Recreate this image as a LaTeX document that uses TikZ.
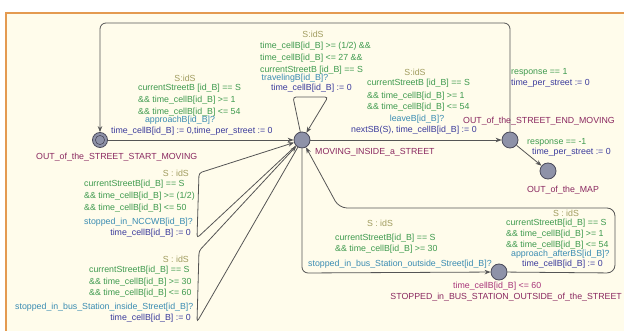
\documentclass[tikz,border=0pt]{standalone}
\usepackage{fontspec}
\setmainfont{Liberation Sans}
\usetikzlibrary{arrows.meta}
\definecolor{bgc}{HTML}{FFFCEB}
\definecolor{frame}{HTML}{E49A50}
\definecolor{selc}{HTML}{A09C5E}
\definecolor{grdc}{HTML}{3E9A4E}
\definecolor{sync}{HTML}{3A8CB2}
\definecolor{updc}{HTML}{3A3A9C}
\definecolor{locc}{HTML}{8A2860}
\definecolor{invc}{HTML}{A8347A}
\definecolor{statef}{HTML}{8E92A8}
\definecolor{statel}{HTML}{4A4A5A}
\definecolor{edgec}{HTML}{555555}
\begin{document}
\begin{tikzpicture}[x=1pt,y=-1pt,
  every node/.style={font=\fontsize{8.8}{10}\selectfont, inner sep=0pt},
  stat/.style={circle, draw=statel, fill=statef, line width=0.8pt, minimum size=16pt},
  edge/.style={draw=edgec, line width=0.8pt, -{Stealth[length=6pt,width=4.5pt]}, rounded corners=6pt},
  sel/.style={text=selc}, grd/.style={text=grdc}, syn/.style={text=sync},
  upd/.style={text=updc}, locl/.style={text=locc}, inv/.style={text=invc}]
\useasboundingbox (0,0) rectangle (624,331);
\fill[white] (0,0) rectangle (624,331);
\fill[bgc] (6,13) rectangle (624,331);
\draw[frame, line width=1.5pt] (6,331) -- (6,13) -- (624,13);

% locations
\node[stat, minimum size=15pt] (start) at (100,140) {};
\draw[statel, line width=0.6pt] (start.center) circle (4.6pt);
\node[stat] (mov) at (302,140) {};
\node[stat] (endm) at (510,140) {};
\node[stat] (map) at (548,171) {};
\node[stat] (stop) at (499,272) {};

% connectors
\draw[edge] (endm) -- (510,23) -- (100,23) -- (start);
\draw[edge] (start) -- (mov);
\draw[edge, rounded corners=3pt] (mov) -- (293,97) -- (328,97) -- (mov);
\draw[edge] (mov) -- (endm);
\draw[edge] (endm) -- (map);
\draw[edge, rounded corners=3pt] (mov) -- (197,238) -- (199,173) -- (mov);
\draw[edge, rounded corners=3pt] (mov) -- (197,322) -- (199,251) -- (mov);
\draw[edge] (mov) -- (302,273) -- (stop);
\draw[edge, rounded corners=8pt] (stop) -- (615,273) -- (615,208) -- (339,208) -- (mov);

% start -> moving
\node[sel] (l1) at (185,78) {S:idS};
\node[grd, anchor=west] (l2) at (138,88) {currentStreetB [id\_B] == S};
\node[grd, anchor=west] (l3) at (138,100) {\&\& time\_cellB[id\_B] >= 1};
\node[grd, anchor=west] (l4) at (138,112) {\&\& time\_cellB[id\_B] <= 54};
\node[syn] (l5) at (180,120) {approachB[id\_B]?};
\node[upd, anchor=west] (l6) at (111,131) {time\_cellB[id\_B] := 0,time\_per\_street := 0};
\node[locl, anchor=west] (n1) at (36,157) {OUT\_of\_the\_STREET\_START\_MOVING};

% self loop
\node[sel] (s1) at (313,34) {S:idS};
\node[grd, anchor=west] (s2) at (260,46) {time\_cellB[id\_B] >= (1/2) \&\&};
\node[grd, anchor=west] (s3) at (260,58) {time\_cellB[id\_B] <= 27 \&\&};
\node[grd, anchor=west] (s4) at (260,70) {currentStreetB [id\_B] == S};
\node[syn] (s5) at (295,78) {travelingB[id\_B]?};
\node[upd, anchor=west] (s6) at (271,88) {time\_cellB[id\_B] := 0};

% moving -> end
\node[sel] (m1) at (415,72) {S:idS};
\node[grd, anchor=west] (m2) at (367,83) {currentStreetB [id\_B] == S};
\node[grd, anchor=west] (m3) at (367,96) {\&\& time\_cellB[id\_B] >= 1};
\node[grd, anchor=west] (m4) at (367,107) {\&\& time\_cellB[id\_B] <= 54};
\node[syn] (m5) at (417,119) {leaveB[id\_B]?};
\node[upd, anchor=west] (m6) at (351,130) {nextSB(S), time\_cellB[id\_B] := 0};
\node[locl, anchor=west] (n2) at (463,121) {OUT\_of\_the\_STREET\_END\_MOVING};
\node[locl, anchor=west] (n3) at (315,152) {MOVING\_INSIDE\_a\_STREET};

% end loop and end -> map
\node[grd, anchor=west] (e1) at (511,72) {response == 1};
\node[upd, anchor=west] (e2) at (511,83) {time\_per\_street := 0};
\node[grd, anchor=west] (e3) at (527,142) {response == -1};
\node[upd, anchor=west] (e4) at (532,152) {time\_per\_street := 0};
\node[locl] (n4) at (563,190) {OUT\_of\_the\_MAP};

% NCCWB loop
\node[sel, anchor=east] (a1) at (189,173) {S : idS};
\node[grd, anchor=west] (a2) at (84,184) {currentStreetB[id\_B] == S};
\node[grd, anchor=west] (a3) at (84,196) {\&\& time\_cellB[id\_B] >= (1/2)};
\node[grd, anchor=west] (a4) at (84,208) {\&\& time\_cellB[id\_B] <= 50};
\node[syn, anchor=west] (a5) at (84,222) {stopped\_in\_NCCWB[id\_B]?};
\node[upd, anchor=east] (a6) at (191,233) {time\_cellB[id\_B] := 0};

% inside loop
\node[sel, anchor=east] (b1) at (189,259) {S : idS};
\node[grd, anchor=west] (b2) at (89,270) {currentStreetB[id\_B] == S};
\node[grd, anchor=west] (b3) at (89,282) {\&\& time\_cellB[id\_B] >= 30};
\node[grd, anchor=west] (b4) at (89,293) {\&\& time\_cellB[id\_B] <= 60};
\node[syn, anchor=west] (b5) at (15,307) {stopped\_in\_bus\_Station\_inside\_Street[id\_B]?};
\node[upd, anchor=east] (b6) at (191,318) {time\_cellB[id\_B] := 0};

% outside
\node[sel] (c1) at (380,223) {S : idS};
\node[grd, anchor=west] (c2) at (335,238) {currentStreetB[id\_B] == S};
\node[grd, anchor=west] (c3) at (335,249) {\&\& time\_cellB[id\_B] >= 30};
\node[syn, anchor=west] (c4) at (308,264) {stopped\_in\_bus\_Station\_outside\_Street[id\_B]?};

% after BS
\node[sel] (d1) at (566,213) {S : idS};
\node[grd, anchor=west] (d2) at (506,223) {currentStreetB[id\_B] == S};
\node[grd, anchor=west] (d3) at (506,234) {\&\& time\_cellB[id\_B] >= 1};
\node[grd, anchor=west] (d4) at (506,245) {\&\& time\_cellB[id\_B] <= 54};
\node[syn, anchor=west] (d5) at (511,254) {approach\_afterBS[id\_B]?};
\node[upd, anchor=west] (d6) at (522,264) {time\_cellB[id\_B] := 0};
\node[inv, anchor=west] (i1) at (453,286) {time\_cellB[id\_B] <= 60};
\node[locl, anchor=east] (n5) at (622,297) {STOPPED\_in\_BUS\_STATION\_OUTSIDE\_of\_the\_STREET};
\end{tikzpicture}
\end{document}
